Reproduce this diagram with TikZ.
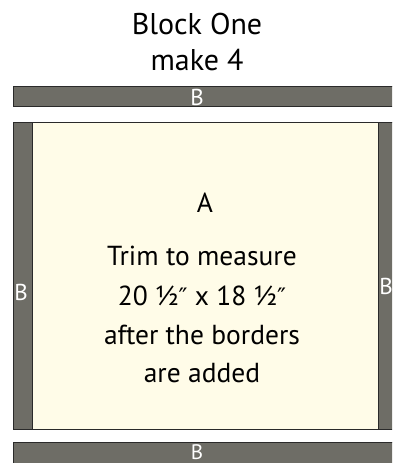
\documentclass[tikz,border=0pt]{standalone}
\usepackage{fontspec}
\setmainfont{PT Sans}
\newfontfamily\primefont{DejaVu Sans}
\newcommand{\dprime}{{\primefont\fontsize{24}{24}\selectfont ″}}
\definecolor{bargray}{HTML}{6E6D66}
\definecolor{cream}{HTML}{FFFCE8}
\definecolor{edge}{HTML}{2A2A2A}
\begin{document}
\begin{tikzpicture}[x=1pt,y=-1pt,
  bar/.style={fill=bargray,draw=edge,line width=0.9pt},
  panel/.style={fill=cream,draw=edge,line width=0.9pt},
  title/.style={font=\fontsize{30}{30}\selectfont,text=black,anchor=base,inner sep=0pt},
  body/.style={font=\fontsize{27.5}{27.5}\selectfont,text=black,anchor=base,inner sep=0pt},
  blabel/.style={font=\fontsize{23}{23}\selectfont,text=white,anchor=base,inner sep=0pt}]
\useasboundingbox (0,0) rectangle (392,463);
\begin{scope}
\clip (0,0) rectangle (392,463);
\fill[white] (0,0) rectangle (392,463);
% top bar
\draw[bar] (13,86) rectangle (400,106);
% left and right bars
\draw[bar] (13,122) rectangle (32,429);
\draw[bar] (378,122) rectangle (400,429);
% panel A
\draw[panel] (32,122) rectangle (378,429);
% bottom bar
\draw[bar] (13,442) rectangle (400,470);
\end{scope}
\node[title] (t1) at (197,34) {Block One};
\node[title] (t2) at (197,70) {make 4};
\node[blabel] (btop) at (197,105) {B};
\node[blabel,font=\fontsize{21}{21}\selectfont] (bbot) at (197,459) {B};
\node[blabel] (bleft) at (21,300) {B};
\node[blabel] (bright) at (386,294) {B};
\node[body] (a) at (205,212) {A};
\node[body] (l1) at (202,265) {Trim to measure};
\node[body] (l2) at (202,305) {20 ½\dprime\ x 18 ½\dprime};
\node[body] (l3) at (202,344) {after the borders};
\node[body] (l4) at (202,382) {are added};
\end{tikzpicture}
\end{document}
